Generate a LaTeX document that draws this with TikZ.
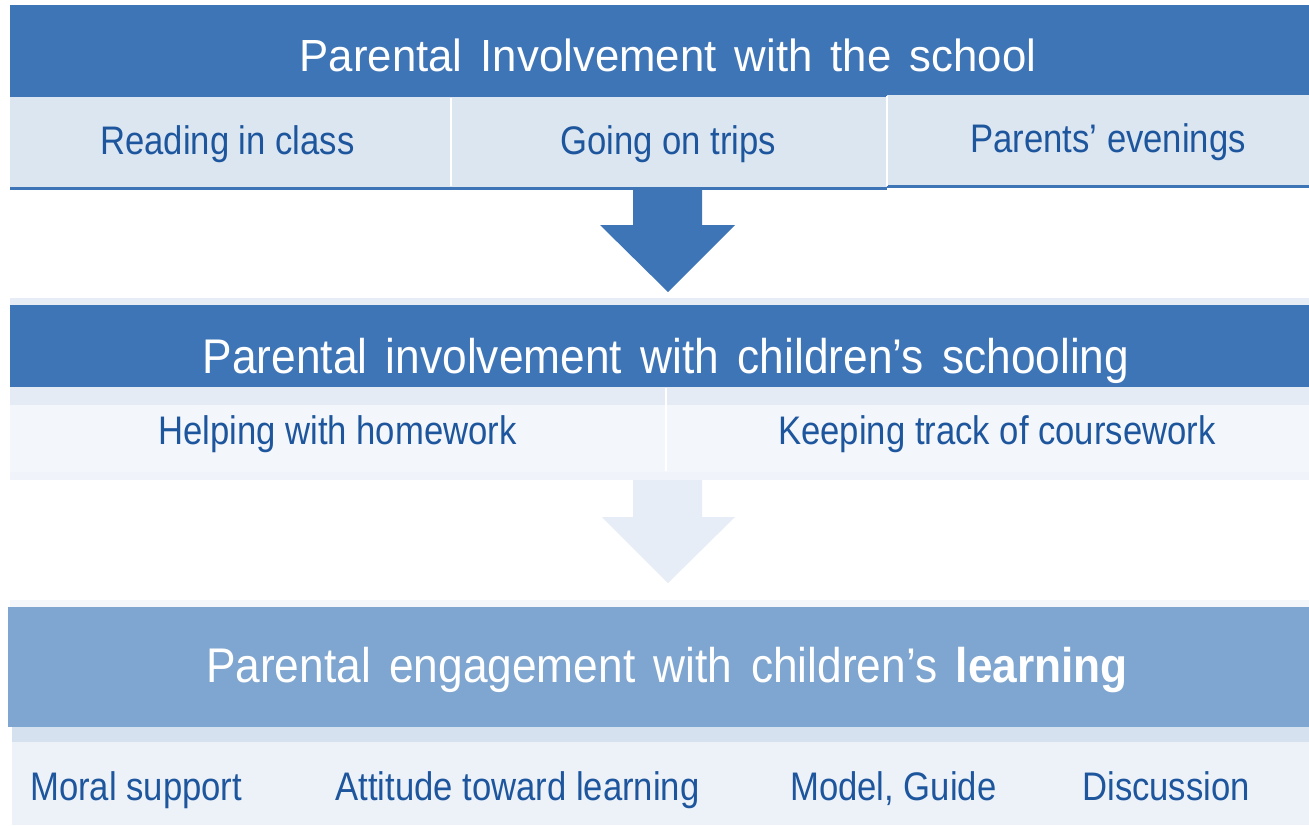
\documentclass[tikz,border=0pt]{standalone}
\usepackage{fontspec}
\setmainfont{Liberation Sans}
\newfontfamily\ttlA{Liberation Sans}[WordSpace=1.7]
\newfontfamily\ttlB{Liberation Sans}[WordSpace=1.5]
\definecolor{bandA}{RGB}{62,117,183}
\definecolor{bandC}{RGB}{127,166,208}
\definecolor{cellA}{RGB}{220,230,241}
\definecolor{cellBtop}{RGB}{228,235,244}
\definecolor{cellB}{RGB}{243,246,251}
\definecolor{cellCtop}{RGB}{213,225,239}
\definecolor{cellC}{RGB}{237,242,249}
\definecolor{arrowB}{RGB}{230,237,246}
\definecolor{subblue}{RGB}{30,86,158}
\newcommand{\vstr}[2]{\scalebox{1}[#1]{#2}}
\tikzset{
  ttlnode/.style={text=white, inner sep=0pt, anchor=base},
  subnode/.style={text=subblue, inner sep=0pt, anchor=base west, font=\fontsize{26}{30}\selectfont},
  sepline/.style={draw=white, line width=1.5pt}
}
\begin{document}
\begin{tikzpicture}[x=0.75pt,y=-0.75pt]
\useasboundingbox (0,0) rectangle (1309,825);
\fill[white] (0,0) rectangle (1309,825);
% ---- band 1
\fill[bandA] (10,5) rectangle (1309,97);
\fill[cellA] (10,97) rectangle (887,187);
\fill[cellA] (887,95) rectangle (1309,185);
\fill[bandA] (10,187) rectangle (887,190);
\fill[bandA] (887,185) rectangle (1309,188);
\draw[sepline] (451,98) -- (451,186);
\draw[sepline] (887,96) -- (887,186);
\node[ttlnode, font=\ttlA\fontsize{32.8}{36}\selectfont] (t1) at (668,71) {\vstr{1.03}{Parental Involvement with the school}};
\node[subnode] (s11) at (100,154) {\vstr{1.15}{Reading in class}};
\node[subnode] (s12) at (560,154) {\vstr{1.15}{Going on trips}};
\node[subnode] (s13) at (970,152) {\vstr{1.15}{Parents’ evenings}};
% ---- arrow 1
\fill[bandA] (633,190) -- (702,190) -- (702,225) -- (735,225) -- (668,292) -- (600,225) -- (633,225) -- cycle;
% ---- band 2
\fill[arrowB] (10,298) rectangle (1309,305);
\fill[bandA] (10,305) rectangle (1309,387);
\fill[cellBtop] (10,387) rectangle (1309,405);
\fill[cellB] (10,405) rectangle (1309,472);
\fill[arrowB!60!white] (10,472) rectangle (1309,480);
\draw[draw=white, line width=1pt] (666,388) -- (666,471);
\node[ttlnode, font=\ttlB\fontsize{33.2}{36}\selectfont] (t2) at (666,373) {\vstr{1.1}{Parental involvement with children’s schooling}};
\node[subnode] (s21) at (158,444) {\vstr{1.15}{Helping with homework}};
\node[subnode] (s22) at (778,444) {\vstr{1.15}{Keeping track of coursework}};
% ---- arrow 2
\fill[arrowB] (633,480) -- (702,480) -- (702,517) -- (735,517) -- (668,583) -- (602,517) -- (633,517) -- cycle;
% ---- band 3
\fill[arrowB!50!white] (10,600) rectangle (1309,607);
\fill[bandC] (8,607) rectangle (1309,727);
\fill[cellCtop] (12,727) rectangle (1309,742);
\fill[cellC] (12,742) rectangle (1309,825);
\node[ttlnode, font=\ttlB\fontsize{33.2}{36}\selectfont] (t3) at (667,682) {\vstr{1.1}{Parental engagement with children’s \textbf{learning}}};
\node[subnode] (s31) at (30,800) {\vstr{1.15}{Moral support}};
\node[subnode] (s32) at (335,800) {\vstr{1.15}{Attitude toward learning}};
\node[subnode] (s33) at (790,800) {\vstr{1.15}{Model, Guide}};
\node[subnode] (s34) at (1082,800) {\vstr{1.15}{Discussion}};
\end{tikzpicture}
\end{document}
